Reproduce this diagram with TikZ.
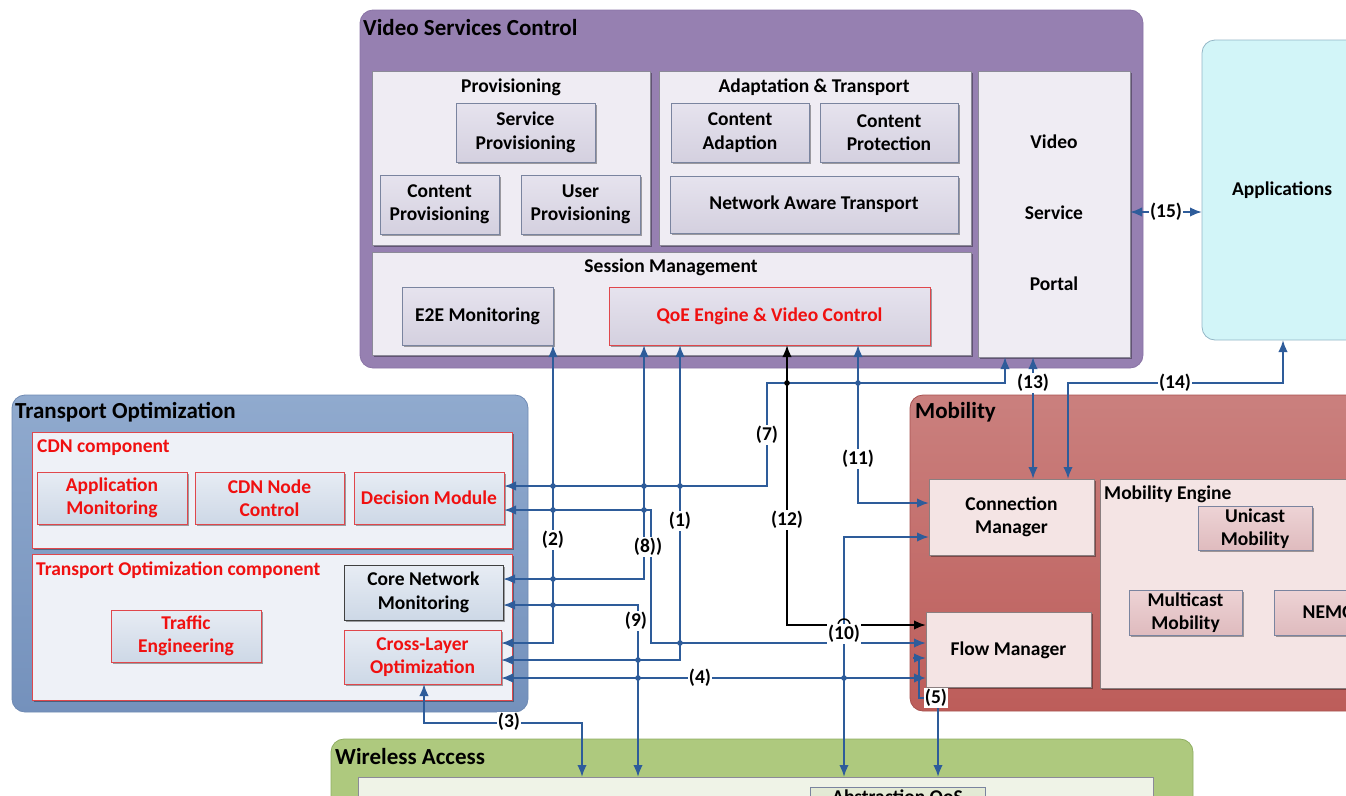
\documentclass[tikz,border=0pt]{standalone}
\usepackage{fontspec}
\setmainfont{Carlito}
\usetikzlibrary{arrows.meta,shadows}

% palette
\definecolor{vscfill}{HTML}{9680B1}
\definecolor{vscedge}{HTML}{8A74A6}
\definecolor{vpanel}{HTML}{EFECF3}
\definecolor{vpedge}{HTML}{8C8A98}
\definecolor{vboxtop}{HTML}{E6E3EE}
\definecolor{vboxbot}{HTML}{D4D0DF}
\definecolor{vboxedge}{HTML}{7A849F}
\definecolor{appfill}{HTML}{D2F5F8}
\definecolor{appedge}{HTML}{93B6C6}
\definecolor{totop}{HTML}{90AACE}
\definecolor{tobot}{HTML}{7491BC}
\definecolor{toedge}{HTML}{6F8AB3}
\definecolor{tpanel}{HTML}{EEF1F7}
\definecolor{redge}{HTML}{E0474C}
\definecolor{tboxtop}{HTML}{E7ECF4}
\definecolor{tboxbot}{HTML}{CDD8E6}
\definecolor{mobtop}{HTML}{CA807E}
\definecolor{mobbot}{HTML}{BD5D5A}
\definecolor{mobedge}{HTML}{A85250}
\definecolor{mpanel}{HTML}{F4E4E4}
\definecolor{mpedge}{HTML}{8A7F80}
\definecolor{mboxtop}{HTML}{EDD3D5}
\definecolor{mboxbot}{HTML}{DFBBBE}
\definecolor{wafill}{HTML}{AEC97E}
\definecolor{waedge}{HTML}{8FAE62}
\definecolor{wapanel}{HTML}{EFF3E7}
\definecolor{wboxtop}{HTML}{E4EBD6}
\definecolor{wboxbot}{HTML}{D6E0C4}
\definecolor{cblue}{HTML}{2E5C9A}
\definecolor{txtred}{HTML}{F01010}

\tikzset{
  txt/.style={font=\bfseries\fontsize{19.5}{23.5}\selectfont, align=center},
  ttl/.style={font=\bfseries\fontsize{23}{27}\selectfont, anchor=west, inner sep=0pt},
  sh/.style={drop shadow={shadow xshift=1.5pt, shadow yshift=-1.5pt, opacity=0.35, fill=black}},
  frame/.style={rectangle, inner sep=0pt, outer sep=0pt},
  vsc/.style={frame, rounded corners=13pt, fill=vscfill, draw=vscedge, line width=0.8pt},
  vpan/.style={frame, fill=vpanel, draw=vpedge, line width=0.8pt, sh},
  vbox/.style={frame, txt, top color=vboxtop, bottom color=vboxbot, draw=vboxedge, line width=0.8pt, sh},
  appbox/.style={frame, rounded corners=13pt, fill=appfill, draw=appedge, line width=0.8pt},
  tobox/.style={frame, rounded corners=13pt, top color=totop, bottom color=tobot, draw=toedge, line width=0.8pt},
  tpan/.style={frame, fill=tpanel, draw=redge, line width=1pt, sh},
  tbox/.style={frame, txt, text=txtred, top color=tboxtop, bottom color=tboxbot, draw=redge, line width=0.9pt, sh},
  mobbox/.style={frame, rounded corners=13pt, top color=mobtop, bottom color=mobbot, draw=mobedge, line width=0.8pt},
  mpan/.style={frame, txt, fill=mpanel, draw=mpedge, line width=0.8pt, sh},
  mbox/.style={frame, txt, top color=mboxtop, bottom color=mboxbot, draw=vboxedge, line width=0.8pt, sh},
  wabox/.style={frame, rounded corners=13pt, fill=wafill, draw=waedge, line width=0.8pt},
  wpan/.style={frame, fill=wapanel, draw=vpedge, line width=0.8pt},
  wbox/.style={frame, top color=wboxtop, bottom color=wboxbot, draw=vboxedge, line width=0.8pt},
  conn/.style={draw=cblue, line width=2.1pt, >={Latex[length=12pt,width=9.5pt]}},
  connk/.style={draw=black, line width=2.1pt, >={Latex[length=12pt,width=9.5pt]}},
  lbl/.style={txt, fill=white, inner sep=1pt},
  hub/.style={fill=cblue},
}

\begin{document}
\begin{tikzpicture}[x=1pt,y=-1pt]
\useasboundingbox (0,0) rectangle (1346,795);
\clip (0,0) rectangle (1346,795);

% ---------------- Video Services Control ----------------
\node[vsc, minimum width=783, minimum height=358] (vsc) at (751.5,189) {};
\node[ttl] (vsct) at (363,28) {Video Services Control};

\node[vpan, minimum width=278, minimum height=174] (prov) at (511,158) {};
\node[txt] (provt) at (511,87) {Provisioning};
\node[vbox, minimum width=139, minimum height=59] (sprov) at (525.5,132.5) {Service\\Provisioning};
\node[vbox, minimum width=119, minimum height=59] (cprov) at (439.5,204.5) {Content\\Provisioning};
\node[vbox, minimum width=119, minimum height=59] (uprov) at (580.5,204.5) {User\\Provisioning};

\node[vpan, minimum width=312, minimum height=174] (adapt) at (815,158) {};
\node[txt] (adaptt) at (814,87) {Adaptation \& Transport};
\node[vbox, minimum width=138, minimum height=59] (cadapt) at (740,132.5) {Content\\Adaption};
\node[vbox, minimum width=138, minimum height=59] (cprot) at (889,132.5) {Content\\Protection};
\node[vbox, minimum width=288, minimum height=57] (nat) at (814,204.5) {Network Aware Transport};

\node[vpan, minimum width=599, minimum height=103] (sess) at (671.5,303.5) {};
\node[txt] (sesst) at (671,267) {Session Management};
\node[vbox, minimum width=151, minimum height=58] (e2e) at (477.5,316) {E2E Monitoring};
\node[vbox, draw=redge, text=txtred, minimum width=321, minimum height=58] (qoe) at (769.5,316) {QoE Engine \& Video Control};

\node[vpan, minimum width=152, minimum height=286] (vsp) at (1054,214) {};
\node[txt] (vsp1) at (1054,142) {Video};
\node[txt] (vsp2) at (1054,213) {Service};
\node[txt] (vsp3) at (1054,284) {Portal};

% ---------------- Applications ----------------
\node[appbox, minimum width=200, minimum height=300] (apps) at (1302,190) {};
\node[txt] (appst) at (1282,190) {Applications};

% ---------------- Transport Optimization ----------------
\node[tobox, minimum width=516, minimum height=317] (topt) at (270,553.5) {};
\node[ttl] (toptt) at (15,412) {Transport Optimization};

\node[tpan, minimum width=480, minimum height=116] (cdn) at (272,490) {};
\node[ttl, font=\bfseries\fontsize{19.5}{23.5}\selectfont, text=txtred] (cdnt) at (37,448) {CDN component};
\node[tbox, minimum width=150, minimum height=52] (appmon) at (112,498) {Application\\Monitoring};
\node[tbox, minimum width=149, minimum height=52] (cdnctl) at (269.5,498) {CDN Node\\Control};
\node[tbox, minimum width=150, minimum height=52] (dec) at (429,498) {Decision Module};

\node[tpan, minimum width=480, minimum height=146] (toc) at (272,627) {};
\node[ttl, font=\bfseries\fontsize{19.5}{23.5}\selectfont, text=txtred] (toct) at (36,570) {Transport Optimization component};
\node[tbox, text=black, draw=black!75, minimum width=159, minimum height=55] (cnm) at (423.5,592.5) {Core Network\\Monitoring};
\node[tbox, minimum width=150, minimum height=52] (te) at (186,636) {Traffic\\Engineering};
\node[tbox, minimum width=157, minimum height=54] (cross) at (422.5,657) {Cross-Layer\\Optimization};

% ---------------- Mobility ----------------
\node[mobbox, minimum width=490, minimum height=316] (mob) at (1155,553) {};
\node[ttl] (mobt) at (915,412) {Mobility};
\node[mpan, minimum width=165, minimum height=76] (conn) at (1011.5,517) {Connection\\Manager};
\node[mpan, minimum width=300, minimum height=209] (meng) at (1250,583.5) {};
\node[ttl, font=\bfseries\fontsize{19.5}{23.5}\selectfont] (mengt) at (1104,494) {Mobility Engine};
\node[mbox, minimum width=114, minimum height=44] (uni) at (1255,528.5) {Unicast\\Mobility};
\node[mbox, minimum width=113, minimum height=45] (multi) at (1185.5,612.5) {Multicast\\Mobility};
\node[mbox, minimum width=110, minimum height=45] (nemo) at (1329,612.5) {NEMO};
\node[mpan, minimum width=165, minimum height=75] (flow) at (1008.5,650) {Flow Manager};

% ---------------- Wireless Access ----------------
\node[wabox, minimum width=862, minimum height=120] (wa) at (762,799) {};
\node[ttl] (wat) at (335,757) {Wireless Access};
\node[wpan, minimum width=795, minimum height=80] (wain) at (755.5,817) {};
\node[wbox, minimum width=175, minimum height=60] (absq) at (897.5,817) {};
\node[txt, anchor=base] (absqt) at (897.5,803) {Abstraction QoS};

% ---------------- connectors ----------------
% (2) E2E monitoring -- cross-layer optimization
\draw[conn,<->] (e2e.south -| 553,0) |- (cross.east |- 0,643);
% (8) QoE engine -- core network monitoring
\draw[conn,<->] (qoe.south -| 644,0) |- (cnm.east |- 0,579);
% (1) QoE engine -- cross-layer optimization
\draw[conn,<->] (qoe.south -| 680,0) |- (cross.east |- 0,660);
% (12) QoE engine -- flow manager
\draw[connk,<->] (qoe.south -| 787,0) |- (flow.west |- 0,625);
% (11) QoE engine -- connection manager
\draw[conn,<->] (qoe.south -| 858,0) |- (conn.west |- 0,503);
% (7) video service portal -- decision module
\draw[conn,<->] (vsp.south -| 1005,0) |- (767,383) |- (dec.east |- 0,486);
% decision module -- flow manager
\draw[conn,<->] (dec.east |- 0,510) -| (651,643) -- (flow.west |- 0,643);
% (9) core network monitoring -- wireless access
\draw[conn,<->] (cnm.east |- 0,605) -| (wain.north -| 638,0);
% (4) cross-layer optimization -- flow manager
\draw[conn,<->] (cross.east |- 0,678) -- (flow.west |- 0,678);
% (3) cross-layer optimization -- wireless access
\draw[conn,<->] (cross.south -| 424,0) |- (582,723) -- (wain.north -| 582,0);
% (10) connection manager -- wireless access
\draw[conn,<->] (conn.west |- 0,537) -| (wain.north -| 844,0);
% (5) flow manager -- wireless access
\draw[conn,->] (919,658) |- (938,698) -- (wain.north -| 938,0);
\draw[conn,->] (913,658) -- (flow.west |- 0,658);
% (13) connection manager -- video service portal
\draw[conn,<->] (conn.north -| 1033,0) -- (vsp.south -| 1033,0);
% (14) connection manager -- applications
\draw[conn,<->] (conn.north -| 1068,0) |- (1283,383) -- (apps.south -| 1283,0);
% (15) video service portal -- applications
\draw[conn,<->] (vsp.east |- 0,212) -- (apps.west |- 0,212);

% junction dots where lines cross
\foreach \p in {(553,486),(644,486),(680,486),(553,510),(644,510),(553,579),(553,605),
                (680,643),(638,660),(638,678),(844,678),(858,383),(919,678)}
  \fill[hub] \p circle[radius=2.8pt];
\fill[black] (787,383) circle[radius=2.8pt];
\draw[connk, line width=1.5pt] (838,625) arc[start angle=180, end angle=0, radius=6pt];

% connector labels
\node[lbl] (l1) at (680,521) {(1)};
\node[lbl] (l2) at (553,540) {(2)};
\node[lbl] (l3) at (509,722) {(3)};
\node[lbl] (l4) at (700,678) {(4)};
\node[lbl] (l5) at (936,698) {(5)};
\node[lbl] (l7) at (767,435) {(7)};
\node[lbl] (l8) at (648,547) {(8))};
\node[lbl] (l9) at (636,621) {(9)};
\node[lbl] (l10) at (844,634) {(10)};
\node[lbl] (l11) at (858,459) {(11)};
\node[lbl] (l12) at (787,520) {(12)};
\node[lbl] (l13) at (1033,383) {(13)};
\node[lbl] (l14) at (1175,383) {(14)};
\node[lbl] (l15) at (1166,212) {(15)};
\end{tikzpicture}
\end{document}
